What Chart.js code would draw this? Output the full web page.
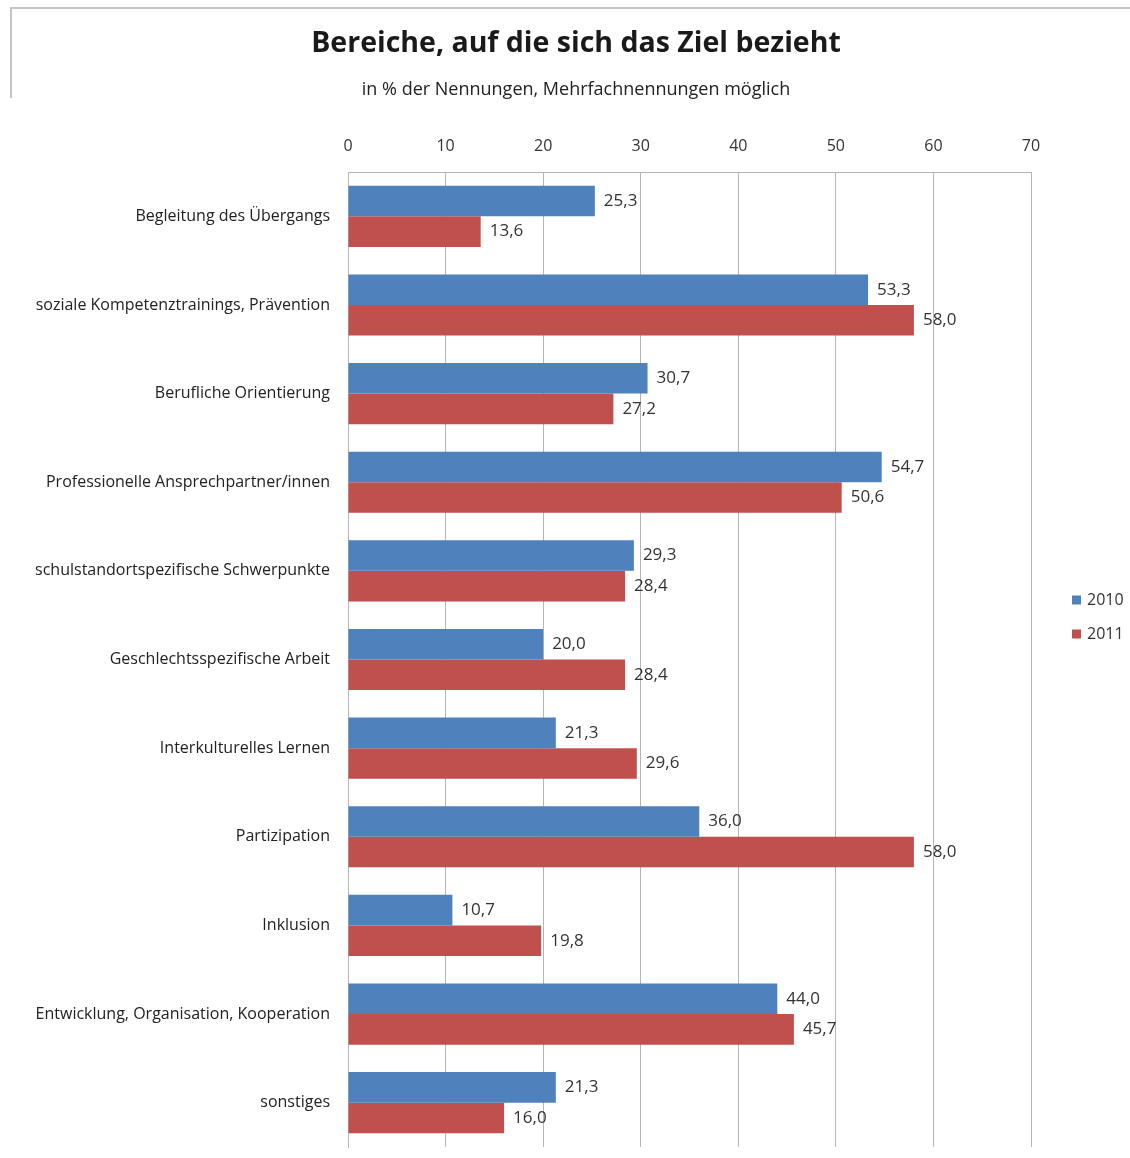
<!DOCTYPE html>
<html lang="de">
<head>
<meta charset="utf-8">
<title>Bereiche, auf die sich das Ziel bezieht</title>
<script src="https://cdn.jsdelivr.net/npm/chart.js@4.4.1/dist/chart.umd.min.js"></script>
<style>
  body { margin: 0; background: #fff; }
  #wrap { position: relative; width: 1130px; height: 1158px; }
  #frame { position: absolute; left: 10px; top: 7px; width: 1120px; height: 89px;
           border-top: 2px solid #c4c4c4; border-left: 2px solid #c4c4c4; }
</style>
</head>
<body>
<div id="wrap">
  <div id="frame"></div>
  <canvas id="myChart"></canvas>
</div>
<script>
var categories = [
  'Begleitung des Übergangs',
  'soziale Kompetenztrainings, Prävention',
  'Berufliche Orientierung',
  'Professionelle Ansprechpartner/innen',
  'schulstandortspezifische Schwerpunkte',
  'Geschlechtsspezifische Arbeit',
  'Interkulturelles Lernen',
  'Partizipation',
  'Inklusion',
  'Entwicklung, Organisation, Kooperation',
  'sonstiges'
];
var values2010 = [25.3, 53.3, 30.7, 54.7, 29.3, 20.0, 21.3, 36.0, 10.7, 44.0, 21.3];
var values2011 = [13.6, 58.0, 27.2, 50.6, 28.4, 28.4, 29.6, 58.0, 19.8, 45.7, 16.0];
var seriesNames = ['2010', '2011'];
var colorHex = ['#4F81BD', '#C0504D'];

var fontFamily = '"Open Sans", Lato, sans-serif';

// value labels right of each bar, German decimal comma
var barValues = {
  id: 'barValues',
  afterDatasetsDraw: function(chart) {
    var ctx = chart.ctx;
    ctx.save();
    ctx.font = '17px ' + fontFamily;
    ctx.fillStyle = '#333';
    ctx.textAlign = 'left';
    ctx.textBaseline = 'middle';
    chart.data.datasets.forEach(function(ds, i) {
      chart.getDatasetMeta(i).data.forEach(function(bar, j) {
        ctx.fillText(ds.data[j].toFixed(1).replace('.', ','), bar.x + 9, bar.y);
      });
    });
    ctx.restore();
  }
};

// small square legend in the free space right of the plot
var sideLegend = {
  id: 'sideLegend',
  afterDraw: function(chart) {
    var ctx = chart.ctx;
    var x = chart.chartArea.right + 41;
    var y0 = 600;
    ctx.save();
    ctx.font = '16px ' + fontFamily;
    ctx.textBaseline = 'middle';
    chart.data.datasets.forEach(function(ds, i) {
      var y = y0 + i * 34;
      ctx.fillStyle = ds.backgroundColor;
      ctx.fillRect(x, y - 4.5, 9, 9);
      ctx.fillStyle = '#333';
      ctx.fillText(ds.label, x + 15, y);
    });
    ctx.restore();
  }
};

var ctx = document.getElementById('myChart').getContext('2d');
var myChart = new Chart(ctx, {
  type: 'bar',
  data: {
    labels: categories,
    datasets: [
      { label: seriesNames[0], data: values2010, backgroundColor: colorHex[0] },
      { label: seriesNames[1], data: values2011, backgroundColor: colorHex[1] }
    ]
  },
  options: {
    indexAxis: 'y',
    responsive: true,
    maintainAspectRatio: false,
    animation: false,
    categoryPercentage: 0.69,
    barPercentage: 1.0,
    layout: { padding: { left: 22, right: 0, top: 0, bottom: 11 } },
    scales: {
      x: {
        position: 'top',
        min: 0,
        max: 70,
        ticks: { stepSize: 10, padding: 16, color: '#333', font: { family: fontFamily, size: 16 } },
        grid: { color: '#b5b5b5', drawTicks: false },
        border: { display: true, color: '#b5b5b5' }
      },
      y: {
        ticks: { padding: 18, color: '#222', font: { family: fontFamily, size: 16 } },
        grid: { display: false, drawTicks: false },
        border: { display: true, color: '#b5b5b5' },
        // long category names: fixed label column, no extra padding above/below
        afterFit: function(scale) {
          scale.width = 326;
          scale.paddingTop = 0;
          scale.paddingBottom = 0;
        }
      },
      // empty axis that keeps room free for the legend
      legendSpace: {
        axis: 'y',
        position: 'right',
        ticks: { display: false },
        grid: { display: false, drawTicks: false },
        border: { display: false },
        afterFit: function(scale) { scale.width = 99; }
      }
    },
    plugins: {
      legend: { display: false },
      tooltip: { enabled: false },
      title: {
        display: true,
        text: 'Bereiche, auf die sich das Ziel bezieht',
        color: '#1a1a1a',
        font: { family: fontFamily, size: 28.5, weight: 'bold' },
        padding: { top: 27, bottom: 18 }
      },
      subtitle: {
        display: true,
        text: 'in % der Nennungen, Mehrfachnennungen möglich',
        color: '#222',
        font: { family: fontFamily, size: 18 },
        padding: { top: 0, bottom: 20 }
      }
    }
  },
  plugins: [barValues, sideLegend]
});
</script>
</body>
</html>
